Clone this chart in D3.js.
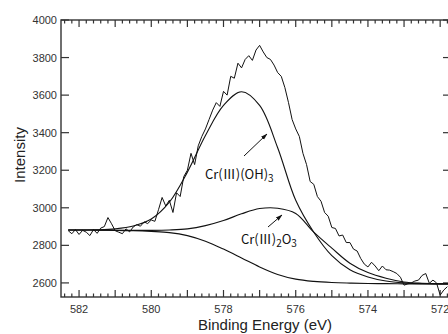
<!DOCTYPE html>
<html>
<head>
<meta charset="utf-8">
<script src="https://cdn.jsdelivr.net/npm/d3@7"></script>
<style>
  body { margin: 0; background: #fff; }
  svg { display: block; font-family: "Liberation Sans", Arial, sans-serif; }
  .frame { fill: none; stroke: #333; stroke-width: 1.4; }
  .tick { stroke: #333; stroke-width: 1.2; }
  .tick-label { font-size: 11px; fill: #333; }
  .axis-title { font-size: 15px; fill: #222; }
  .spectrum { fill: none; stroke: #111; stroke-width: 1; stroke-linejoin: round; }
  .fit { fill: none; stroke: #111; stroke-width: 1.1; }
  .peak-label { font-family: "Noto Sans CJK JP", "Liberation Sans", sans-serif; font-size: 13px; fill: #111; }
</style>
</head>
<body>
<div id="graphic"></div>
<script>
// Measured XPS Cr 2p3/2 spectrum, 0.1 eV steps starting at 582.3 eV
let spectrumStart = 582.3, spectrumStep = 0.1;
let spectrum = [
  2878, 2862, 2884, 2858, 2880, 2870, 2852, 2884, 2864, 2892,
  2900, 2948, 2915, 2878, 2870, 2862, 2888, 2872, 2898, 2910,
  2902, 2925, 2916, 2935, 2928, 2990, 3055, 3010, 3040, 2975,
  3080, 3060, 3166, 3200, 3290, 3230, 3330, 3380, 3420, 3470,
  3520, 3560, 3540, 3620, 3600, 3700, 3690, 3770, 3745, 3790,
  3810, 3785, 3840, 3865, 3830, 3800, 3790, 3760, 3720, 3700,
  3640, 3560, 3470, 3420, 3380, 3290, 3230, 3140, 3125, 3060,
  3035, 2975, 2955, 2895, 2890, 2850, 2855, 2815, 2815, 2780,
  2770, 2730, 2700, 2685, 2710, 2690, 2665, 2690, 2670, 2668,
  2660, 2650, 2630, 2588, 2595, 2600, 2610, 2615, 2640, 2650,
  2598, 2615, 2600, 2535, 2562, 2580
];

// Fitted curves sampled on a coarse energy grid
let fitEnergy = [582.3, 582.0, 581.5, 581.0, 580.5, 580.0, 579.5, 579.0, 578.5, 578.0,
                 577.5, 577.0, 576.5, 576.0, 575.5, 575.0, 574.5, 574.0, 573.5, 573.0,
                 572.5, 572.0, 571.7];
let background = [2882, 2882, 2881, 2880, 2878, 2874, 2868, 2852, 2822, 2780,
                  2733, 2685, 2645, 2620, 2608, 2602, 2599, 2597, 2596, 2595,
                  2595, 2595, 2595];
let hydroxideFit = [2882, 2882, 2883, 2888, 2903, 2940, 3030, 3190, 3385, 3545,
                    3618, 3545, 3320, 3040, 2870, 2745, 2670, 2632, 2610, 2600,
                    2596, 2595, 2595];
let oxideFit = [2882, 2882, 2881, 2880, 2880, 2880, 2882, 2888, 2905, 2932,
                2968, 2996, 2998, 2970, 2870, 2785, 2705, 2655, 2625, 2605,
                2598, 2595, 2595];

let yTicks = [2600, 2800, 3000, 3200, 3400, 3600, 3800, 4000];
let xLabels = [582, 580, 578, 576, 574, 572];

(function(d3){

    let width = 448, height = 334;

    // Plot frame (right edge runs just past the picture)
    let left = 61, right = 451, top = 20, bottom = 297;

    let x = d3.scaleLinear().domain([582.5, 571.7]).range([left, right]);
    let y = d3.scaleLinear().domain([2525, 4000]).range([bottom, top]);

    let svg = d3.select('#graphic')
                .append('svg')
                .attr('width', width)
                .attr('height', height);

    svg.append('defs').append('marker')
       .attr('id', 'arrow-head')
       .attr('viewBox', '0 0 10 10')
       .attr('refX', 9).attr('refY', 5)
       .attr('markerWidth', 7).attr('markerHeight', 7)
       .attr('markerUnits', 'userSpaceOnUse')
       .attr('orient', 'auto')
       .append('path')
       .attr('d', 'M0,2 L10,5 L0,8 Z')
       .attr('fill', '#111');

    function drawAxes()
    {
        // minor ticks every 0.2 eV, longer ones on whole eV
        let xTicks = d3.range(0, 55).map(i => +(582.4 - i * 0.2).toFixed(1))
                       .filter(e => e >= 571.7);
        xTicks.forEach(e => {
            let len = Math.abs(e - Math.round(e)) < 1e-6 ? 7 : 3.5;
            svg.append('line').attr('class', 'tick')
               .attr('x1', x(e)).attr('x2', x(e))
               .attr('y1', bottom).attr('y2', bottom - len);
            svg.append('line').attr('class', 'tick')
               .attr('x1', x(e)).attr('x2', x(e))
               .attr('y1', top).attr('y2', top + len);
        });

        yTicks.forEach(v => {
            svg.append('line').attr('class', 'tick')
               .attr('x1', left).attr('x2', left + 8)
               .attr('y1', y(v)).attr('y2', y(v));
            svg.append('line').attr('class', 'tick')
               .attr('x1', right).attr('x2', right - 8)
               .attr('y1', y(v)).attr('y2', y(v));
            svg.append('text').attr('class', 'tick-label')
               .attr('x', left - 4).attr('y', y(v) + 4)
               .attr('text-anchor', 'end')
               .text(v);
        });

        xLabels.forEach(e => {
            svg.append('text').attr('class', 'tick-label')
               .attr('x', x(e)).attr('y', bottom + 16)
               .attr('text-anchor', 'middle')
               .text(e);
        });

        svg.append('rect').attr('class', 'frame')
           .attr('x', left).attr('y', top)
           .attr('width', right - left).attr('height', bottom - top);

        svg.append('text').attr('class', 'axis-title')
           .attr('x', 265).attr('y', 330)
           .attr('text-anchor', 'middle')
           .text('Binding Energy (eV)');

        svg.append('text').attr('class', 'axis-title')
           .attr('transform', 'translate(25,155) rotate(-90)')
           .attr('text-anchor', 'middle')
           .text('Intensity');
    }

    function drawCurves()
    {
        svg.append('clipPath').attr('id', 'plot-clip')
            .append('rect')
            .attr('x', left).attr('y', top)
            .attr('width', right - left).attr('height', bottom - top);

        let g = svg.append('g').attr('clip-path', 'url(#plot-clip)');

        let smooth = d3.line()
            .x(d => x(d[0]))
            .y(d => y(d[1]))
            .curve(d3.curveCatmullRom);

        [background, hydroxideFit, oxideFit].forEach(series => {
            g.append('path')
             .attr('class', 'fit')
             .attr('d', smooth(series.map((v, i) => [fitEnergy[i], v])));
        });

        let raw = d3.line()
            .x((d, i) => x(spectrumStart - i * spectrumStep))
            .y(d => y(d));

        g.append('path')
         .attr('class', 'spectrum')
         .attr('d', raw(spectrum));
    }

    // parts: [text, isSubscript]
    function drawLabel(parts, px, py)
    {
        let t = svg.append('text').attr('class', 'peak-label')
            .attr('x', px).attr('y', py);
        let shifted = false;
        parts.forEach(p => {
            let span = t.append('tspan').text(p[0]);
            if(p[1] && !shifted) { span.attr('font-size', 10).attr('dy', 3); shifted = true; }
            else if(!p[1] && shifted) { span.attr('dy', -3); shifted = false; }
            else if(p[1]) { span.attr('font-size', 10); }
        });
    }

    function drawArrow(x1, y1, x2, y2)
    {
        svg.append('line')
           .attr('x1', x1).attr('y1', y1)
           .attr('x2', x2).attr('y2', y2)
           .attr('stroke', '#111').attr('stroke-width', 1)
           .attr('marker-end', 'url(#arrow-head)');
    }

    drawAxes();
    drawCurves();

    drawLabel([['Cr(Ⅲ)(OH)', false], ['3', true]], 205, 179);
    drawArrow(244, 156, 267, 134);

    drawLabel([['Cr(Ⅲ)', false], ['2', true], ['O', false], ['3', true]], 241, 244);
    drawArrow(268, 227, 282, 215);

})(window.d3);
</script>
</body>
</html>
